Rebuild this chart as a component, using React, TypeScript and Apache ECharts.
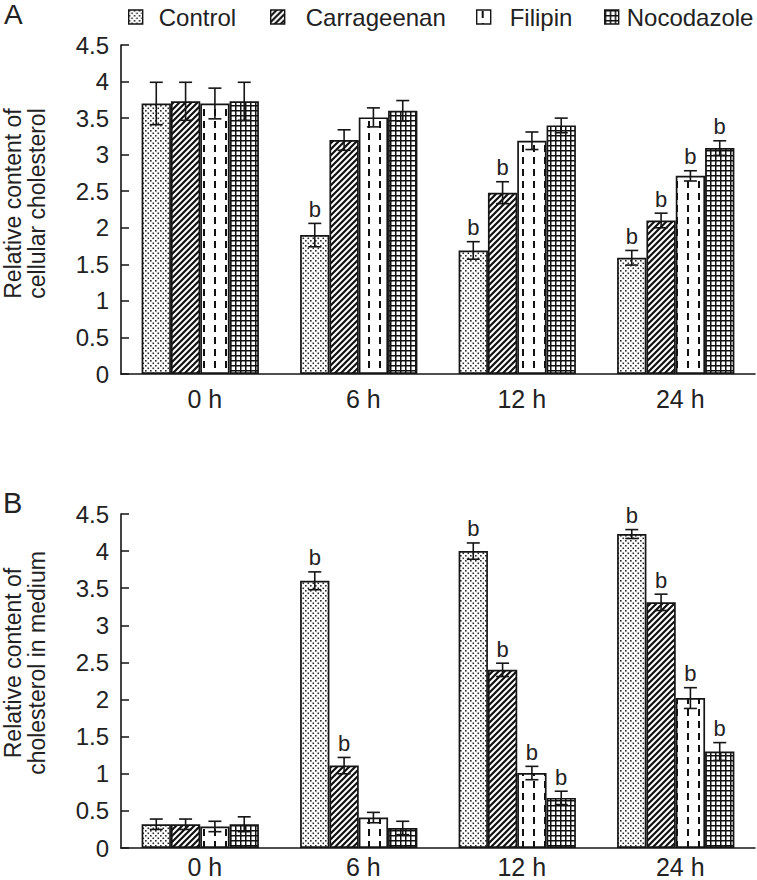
import React, { useEffect, useRef } from 'react';
import * as echarts from 'echarts';

// ---------- data ----------
const categories = ['0 h', '6 h', '12 h', '24 h'];
const seriesNames = ['Control', 'Carrageenan', 'Filipin', 'Nocodazole'];
const yMin = 0;
const yMax = 4.5;
const yStep = 0.5;

// Panel A: relative content of cellular cholesterol
const cellControl = [3.70, 1.90, 1.69, 1.59];
const cellCarrageenan = [3.73, 3.20, 2.48, 2.10];
const cellFilipin = [3.70, 3.51, 3.19, 2.71];
const cellNocodazole = [3.73, 3.60, 3.40, 3.09];
const cellControlErr = [0.29, 0.16, 0.12, 0.10];
const cellCarrageenanErr = [0.26, 0.14, 0.15, 0.10];
const cellFilipinErr = [0.21, 0.13, 0.12, 0.07];
const cellNocodazoleErr = [0.26, 0.14, 0.10, 0.10];
const cellControlSig = ['', 'b', 'b', 'b'];
const cellCarrageenanSig = ['', '', 'b', 'b'];
const cellFilipinSig = ['', '', '', 'b'];
const cellNocodazoleSig = ['', '', '', 'b'];

// Panel B: relative content of cholesterol in medium
const medControl = [0.32, 3.60, 4.00, 4.23];
const medCarrageenan = [0.32, 1.11, 2.40, 3.31];
const medFilipin = [0.29, 0.41, 1.01, 2.02];
const medNocodazole = [0.32, 0.27, 0.675, 1.30];
const medControlErr = [0.07, 0.12, 0.11, 0.06];
const medCarrageenanErr = [0.07, 0.11, 0.09, 0.11];
const medFilipinErr = [0.07, 0.07, 0.09, 0.14];
const medNocodazoleErr = [0.10, 0.09, 0.09, 0.12];
const medControlSig = ['', 'b', 'b', 'b'];
const medCarrageenanSig = ['', 'b', 'b', 'b'];
const medFilipinSig = ['', '', 'b', 'b'];
const medNocodazoleSig = ['', '', 'b', 'b'];

const panelLabels = ['A', 'B'];
const yNames = ['Relative content of\ncellular cholesterol', 'Relative content of\ncholesterol in medium'];

// ---------- style ----------
const FONT = '"Liberation Sans", Arial, sans-serif';
const INK = '#151515';
const TEXT = '#222';
const BAR_FRAC = 0.185;

function makeCanvas(w: number, h: number, draw: (ctx: CanvasRenderingContext2D) => void) {
  const c = document.createElement('canvas');
  c.width = w;
  c.height = h;
  const ctx = c.getContext('2d') as CanvasRenderingContext2D;
  ctx.fillStyle = '#fff';
  ctx.fillRect(0, 0, w, h);
  draw(ctx);
  return { image: c.toDataURL(), repeat: 'repeat', imageWidth: w, imageHeight: h } as any;
}

function buildPatterns() {
  const dots = makeCanvas(5, 5, (ctx) => {
    ctx.fillStyle = '#2a2a2a';
    ctx.fillRect(0, 0, 1.6, 1.6);
    ctx.fillRect(2.5, 2.5, 1.6, 1.6);
  });
  const hatch = makeCanvas(6, 6, (ctx) => {
    ctx.strokeStyle = '#111';
    ctx.lineWidth = 2.2;
    ctx.beginPath();
    ctx.moveTo(-1, 7); ctx.lineTo(7, -1);
    ctx.moveTo(-4, 4); ctx.lineTo(4, -4);
    ctx.moveTo(2, 10); ctx.lineTo(10, 2);
    ctx.stroke();
  });
  const dashes = makeCanvas(11, 12, (ctx) => {
    ctx.fillStyle = '#111';
    ctx.fillRect(5, 1, 2, 7);
  });
  const grid = makeCanvas(5, 5, (ctx) => {
    ctx.fillStyle = '#111';
    ctx.fillRect(0, 0, 5, 1.5);
    ctx.fillRect(0, 0, 1.5, 5);
  });
  return [dots, hatch, dashes, grid];
}

function errorSeries(gridIndex: number, values: number[][], errs: number[][], sigs: string[][]) {
  const data: number[][] = [];
  const labels: string[] = [];
  const slots: number[] = [];
  for (let s = 0; s < values.length; s++) {
    for (let c = 0; c < categories.length; c++) {
      data.push([c, values[s][c] + errs[s][c], values[s][c] - errs[s][c]]);
      labels.push(sigs[s][c]);
      slots.push(s);
    }
  }
  return {
    type: 'custom',
    xAxisIndex: gridIndex,
    yAxisIndex: gridIndex,
    z: 10,
    silent: true,
    encode: { x: 0, y: [1, 2] },
    data,
    renderItem: (params: any, api: any) => {
      const c = api.value(0);
      const hi = api.value(1);
      const lo = api.value(2);
      const s = slots[params.dataIndex];
      const bw = api.size([1, 0])[0] * BAR_FRAC;
      const cx = api.coord([c, 0])[0] + (s - 1.5) * bw;
      const yT = api.coord([c, hi])[1];
      const yB = api.coord([c, lo])[1];
      const cap = 6.5;
      const ls = { stroke: INK, lineWidth: 1.6 };
      const children: any[] = [
        { type: 'line', shape: { x1: cx, y1: yT, x2: cx, y2: yB }, style: ls },
        { type: 'line', shape: { x1: cx - cap, y1: yT, x2: cx + cap, y2: yT }, style: ls },
        { type: 'line', shape: { x1: cx - cap, y1: yB, x2: cx + cap, y2: yB }, style: ls },
      ];
      const lab = labels[params.dataIndex];
      if (lab) {
        children.push({
          type: 'text',
          x: cx,
          y: yT - 3,
          style: { text: lab, textAlign: 'center', textVerticalAlign: 'bottom', fontSize: 22, fontFamily: FONT, fill: TEXT },
        });
      }
      return { type: 'group', children };
    },
  };
}

export default function App() {
  const ref = useRef<HTMLDivElement>(null);

  useEffect(() => {
    if (!ref.current) return;
    const chart = echarts.init(ref.current, null, { renderer: 'svg' });
    const patterns = buildPatterns();

    const cellValues = [cellControl, cellCarrageenan, cellFilipin, cellNocodazole];
    const cellErrs = [cellControlErr, cellCarrageenanErr, cellFilipinErr, cellNocodazoleErr];
    const cellSigs = [cellControlSig, cellCarrageenanSig, cellFilipinSig, cellNocodazoleSig];
    const medValues = [medControl, medCarrageenan, medFilipin, medNocodazole];
    const medErrs = [medControlErr, medCarrageenanErr, medFilipinErr, medNocodazoleErr];
    const medSigs = [medControlSig, medCarrageenanSig, medFilipinSig, medNocodazoleSig];

    const barSeries = (gridIndex: number, values: number[][]) =>
      values.map((v, s) => ({
        type: 'bar',
        name: seriesNames[s],
        xAxisIndex: gridIndex,
        yAxisIndex: gridIndex,
        data: v,
        barWidth: `${BAR_FRAC * 100}%`,
        barGap: '0%',
        itemStyle: { color: patterns[s], borderColor: INK, borderWidth: 1.7 },
      }));

    const grids = [
      { left: 121, right: 2, top: 45, bottom: 506, outerBoundsMode: 'none', containLabel: false },
      { left: 121, right: 2, top: 514, bottom: 32, outerBoundsMode: 'none', containLabel: false },
    ];
    const xLabelMargins = [12, 6];
    const nameShift = [12, 36];

    const xAxes = grids.map((_, i) => ({
      type: 'category',
      gridIndex: i,
      data: categories,
      axisTick: { show: false },
      axisLine: { show: true, lineStyle: { color: INK, width: 1.6 } },
      axisLabel: { fontSize: 25, fontFamily: FONT, color: TEXT, margin: xLabelMargins[i], padding: [0, 0, 0, 9] },
    }));

    const yAxes = grids.map((_, i) => ({
      type: 'value',
      gridIndex: i,
      min: yMin,
      max: yMax,
      interval: yStep,
      name: yNames[i],
      nameLocation: 'middle',
      nameRotate: 90,
      nameGap: 72,
      nameTextStyle: { fontSize: 23, lineHeight: 24, fontFamily: FONT, color: TEXT, padding: [0, 0, 0, nameShift[i]] },
      splitLine: { show: false },
      axisLine: { show: true, lineStyle: { color: INK, width: 1.6 } },
      axisTick: { show: true, inside: true, length: 8, lineStyle: { color: INK, width: 1.5 } },
      axisLabel: { fontSize: 24, fontFamily: FONT, color: TEXT, margin: 12 },
    }));

    const legendPos = [
      { left: 123, gap: 16 },
      { left: 265, gap: 21 },
      { left: 471, gap: 19 },
      { left: 599, gap: 8 },
    ];

    const legends = seriesNames.map((name, i) => ({
      data: [name],
      left: legendPos[i].left,
      top: 0,
      icon: 'rect',
      itemWidth: 14,
      itemHeight: 14,
      selectedMode: false,
      itemStyle: { borderColor: INK, borderWidth: 1.4 },
      textStyle: { fontSize: 24, fontFamily: FONT, color: TEXT, padding: [0, 0, 0, legendPos[i].gap - 5] },
    }));

    chart.setOption({
      animation: false,
      backgroundColor: '#fff',
      grid: grids,
      xAxis: xAxes,
      yAxis: yAxes,
      legend: legends,
      graphic: [
        { type: 'text', x: 4, y: 0, style: { text: panelLabels[0], fontSize: 28, fontFamily: FONT, fill: TEXT, textVerticalAlign: 'top' } },
        { type: 'text', x: 3, y: 488, style: { text: panelLabels[1], fontSize: 29, fontFamily: FONT, fill: TEXT, textVerticalAlign: 'top' } },
      ],
      series: [
        ...barSeries(0, cellValues),
        ...barSeries(1, medValues),
        errorSeries(0, cellValues, cellErrs, cellSigs),
        errorSeries(1, medValues, medErrs, medSigs),
      ],
    } as any);

    return () => chart.dispose();
  }, []);

  return <div ref={ref} style={{ position: 'absolute', left: 0, top: 0, width: 757, height: 880 }} />;
}
